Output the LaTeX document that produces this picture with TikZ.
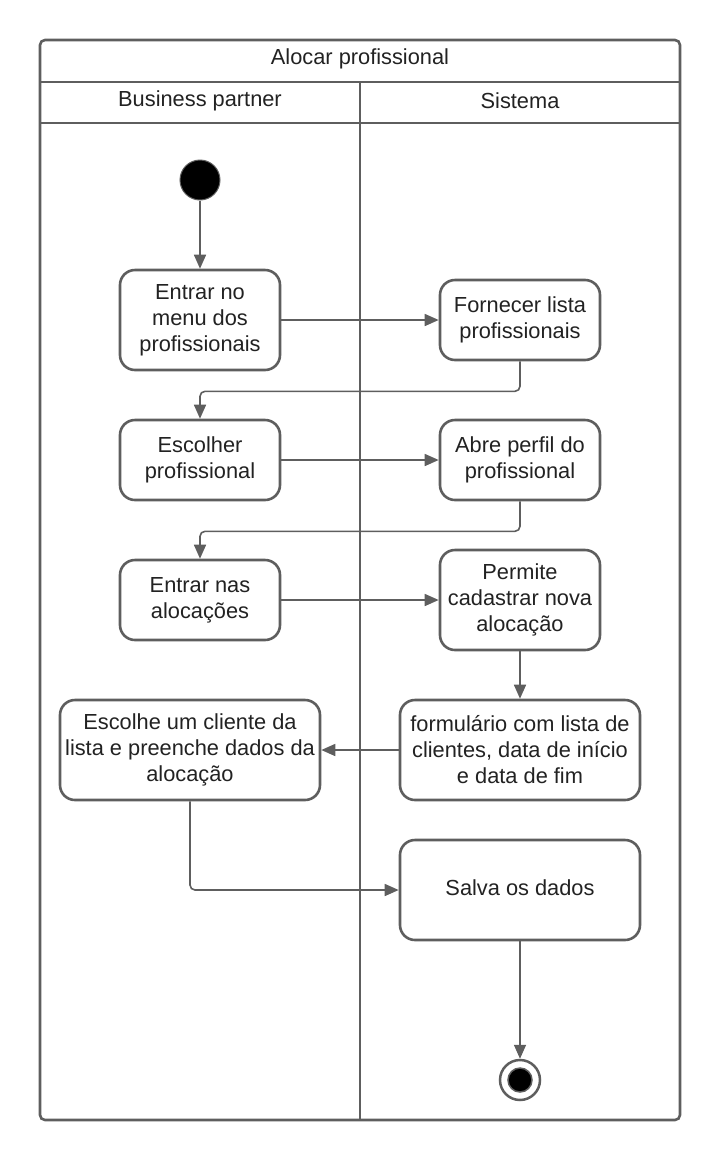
\documentclass[tikz,border=0pt]{standalone}
\usepackage{fontspec}
\setmainfont{Liberation Sans}
\usetikzlibrary{arrows.meta}
\definecolor{ln}{HTML}{5E5E5E}
\definecolor{txt}{HTML}{222222}
\begin{document}
\begin{tikzpicture}[x=1pt,y=-1pt,
  every node/.style={font=\fontsize{21.8}{26}\selectfont, text=txt},
  act/.style={draw=ln, line width=2.6pt, rounded corners=15pt, fill=white, align=center, inner sep=0pt},
  flow/.style={draw=ln, line width=1.6pt, -{Triangle[length=14pt,width=12pt]}},
  frame/.style={draw=ln, line width=2.6pt}
]
\useasboundingbox (0,0) rectangle (720,1160);
% swimlane frame
\draw[frame, rounded corners=5pt] (40,40) rectangle (680,1120);
\draw[frame] (40,82) -- (680,82);
\draw[frame] (40,123) -- (680,123);
\draw[frame] (360,82) -- (360,1120);
\node (title) at (360,59) {Alocar profissional};
\node (lane1) at (200,101) {Business partner};
\node (lane2) at (520,101) {Sistema};

% start
\node[circle, fill=black, draw=ln, line width=1pt, minimum size=40pt, inner sep=0pt] (start) at (200,180) {};

% activities
\node[act, minimum width=160pt, minimum height=100pt] (b1) at (200,320) {Entrar no\\menu dos\\profissionais};
\node[act, minimum width=160pt, minimum height=80pt] (b2) at (520,320) {Fornecer lista\\profissionais};
\node[act, minimum width=160pt, minimum height=80pt] (b3) at (200,460) {Escolher\\profissional};
\node[act, minimum width=160pt, minimum height=80pt] (b4) at (520,460) {Abre perfil do\\profissional};
\node[act, minimum width=160pt, minimum height=80pt] (b5) at (200,600) {Entrar nas\\alocações};
\node[act, minimum width=160pt, minimum height=100pt] (b6) at (520,600) {Permite\\cadastrar nova\\alocação};
\node[act, minimum width=240pt, minimum height=100pt] (b7) at (520,750) {formulário com lista de\\clientes, data de início\\e data de fim};
\node[act, minimum width=260pt, minimum height=100pt] (b8) at (190,750) {Escolhe um cliente da\\lista e preenche dados da\\alocação};
\node[act, minimum width=240pt, minimum height=100pt] (b9) at (520,890) {\raisebox{4pt}{Salva os dados}};

% end
\node[circle, draw=ln, line width=2.5pt, fill=white, minimum size=40pt, inner sep=0pt] (end) at (520,1080) {};
\node[circle, fill=black, draw=ln, line width=1.5pt, minimum size=24pt, inner sep=0pt] (endin) at (520,1080) {};

% flows
\draw[flow] (start) -- (b1);
\draw[flow] (b1) -- (b2);
\draw[flow, rounded corners=5pt] (b2.south) -- ++(0,30) -| (b3.north);
\draw[flow] (b3) -- (b4);
\draw[flow, rounded corners=5pt] (b4.south) -- ++(0,30) -| (b5.north);
\draw[flow] (b5) -- (b6);
\draw[flow] (b6) -- (b7);
\draw[flow] (b7) -- (b8);
\draw[flow, rounded corners=5pt] (b8.south) |- (b9.west);
\draw[flow] (b9) -- (end);
\end{tikzpicture}
\end{document}
